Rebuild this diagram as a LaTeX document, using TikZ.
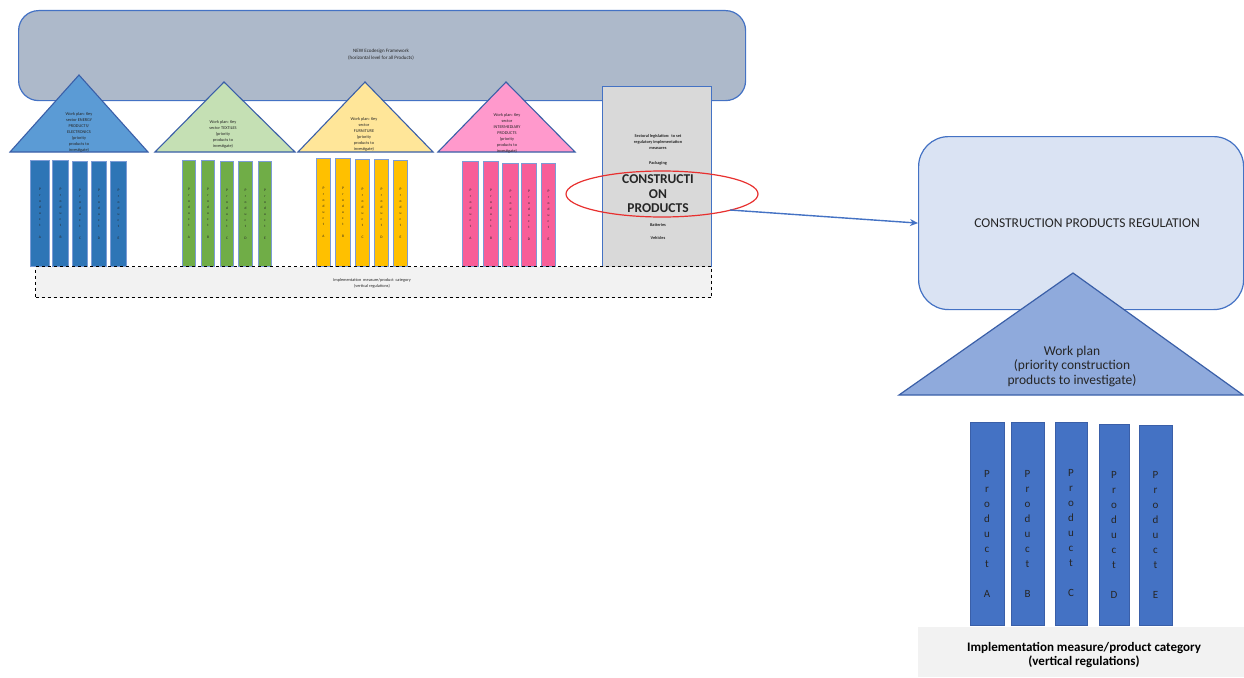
\documentclass[tikz,border=0pt]{standalone}
\usepackage{fontspec}
\setmainfont{Carlito}
\usetikzlibrary{arrows.meta}
\definecolor{topfill}{HTML}{ADB9CA}
\definecolor{edgeblue}{HTML}{4472C4}
\definecolor{darkedge}{HTML}{3A5FA8}
\definecolor{tblue}{HTML}{5B9BD5}
\definecolor{tgreen}{HTML}{C5E0B4}
\definecolor{tyellow}{HTML}{FFE699}
\definecolor{tpink}{HTML}{FF99CC}
\definecolor{cblue}{HTML}{2E75B6}
\definecolor{cgreen}{HTML}{70AD47}
\definecolor{cyellow}{HTML}{FFC000}
\definecolor{cpink}{HTML}{F85E98}
\definecolor{grayfill}{HTML}{D9D9D9}
\definecolor{lightgray}{HTML}{F2F2F2}
\definecolor{crpfill}{HTML}{DAE3F3}
\definecolor{wpfill}{HTML}{8FAADC}
\definecolor{textdark}{HTML}{262626}
\definecolor{ringred}{HTML}{E8302F}
\newcommand{\smallprod}[1]{P\\r\\o\\d\\u\\c\\t\\[6pt]#1}
\newcommand{\bigprod}[1]{P\\r\\o\\d\\u\\c\\t\\[15pt]#1}
\begin{document}
\begin{tikzpicture}[x=1pt,y=-1pt,
  tri/.style={draw=darkedge, line width=1.1pt, line join=miter},
  tinytext/.style={align=center, text=textdark, font=\fontsize{4.3}{6}\selectfont, inner sep=0pt},
  smallcol/.style={draw=edgeblue!70, line width=1pt, inner sep=0pt, anchor=north west,
     align=center, text=textdark, font=\fontsize{3.6}{6}\selectfont},
  bigcol/.style={draw=darkedge, line width=0.6pt, fill=edgeblue, inner sep=0pt, anchor=north west},
  bigcoltext/.style={align=center, text=textdark, font=\fontsize{11}{15}\selectfont, inner sep=0pt},
  conn/.style={draw=edgeblue, line width=1.4pt, -{Stealth[length=8pt,width=7pt]}}
]
\useasboundingbox (0,0) rectangle (1244,677);
\fill[white] (0,0) rectangle (1244,677);

% top framework box
\node[draw=edgeblue, line width=1.2pt, fill=topfill, rounded corners=20pt, minimum width=727pt, minimum height=90pt, anchor=north west] (frame) at (18,10) {};
\node[tinytext, font=\fontsize{5}{7}\selectfont] (frametxt) at (381,55) {NEW Ecodesign Framework\\(horizontal level for all Products)};

% triangles
\filldraw[tri, fill=tblue] (10,152) -- (79,75) -- (148,152) -- cycle;
\filldraw[tri, fill=tgreen] (155,152) -- (224,82) -- (295,152) -- cycle;
\filldraw[tri, fill=tyellow] (298,152) -- (365,82) -- (433,152) -- cycle;
\filldraw[tri, fill=tpink] (438,152) -- (506,82) -- (575,152) -- cycle;
\node[tinytext] (t1) at (79,132) {Work plan: Key\\sector ENERGY\\PRODUCTS/\\ELECTRONICS\\(priority\\products to\\investigate)};
\node[tinytext] (t2) at (223,134) {Work plan: Key\\sector TEXTILES\\(priority\\products to\\investigate)};
\node[tinytext] (t3) at (364,134) {Work plan: Key\\sector\\FURNITURE\\(priority\\products to\\investigate)};
\node[tinytext] (t4) at (507,133) {Work plan: Key\\sector\\INTERMEDIARY\\PRODUCTS\\(priority\\products to\\investigate)};

% gray sectoral column
\node[draw=edgeblue, line width=1.2pt, fill=grayfill, minimum width=109pt, minimum height=182pt, anchor=north west, inner sep=0pt] (sect) at (602,86) {};
\node[tinytext, font=\bfseries\fontsize{4.3}{5.6}\selectfont] (sect1) at (658,142) {Sectoral legislation:\ \ to set\\regulatory implementation\\measures};
\node[tinytext, font=\bfseries\fontsize{4.3}{5.6}\selectfont] (sect2) at (658,163) {Packaging};
\node[tinytext, font=\bfseries\fontsize{13.5}{14.5}\selectfont] (sect3) at (658,194) {CONSTRUCTI\\ON\\PRODUCTS};
\node[tinytext, font=\bfseries\fontsize{4.3}{5.6}\selectfont] (sect4) at (658,225) {Batteries};
\node[tinytext, font=\bfseries\fontsize{4.3}{5.6}\selectfont] (sect5) at (658,238) {Vehicles};

% small product columns
\foreach \n/\a/\b/\t/\l in {1/30/49/160/A,2/52/68/160/B,3/72/87/161/C,4/91/106/161/D,5/110/126/161/E}
  \node[smallcol, fill=cblue, minimum width={(\b-\a)*1pt}, minimum height={(266-\t)*1pt}] (bl\n) at (\a,\t) {\smallprod{\l}};
\foreach \n/\a/\b/\t/\l in {1/182/195/160/A,2/201/214/160/B,3/220/233/161/C,4/238/252/161/D,5/258/271/161/E}
  \node[smallcol, fill=cgreen, minimum width={(\b-\a)*1pt}, minimum height={(266-\t)*1pt}] (gr\n) at (\a,\t) {\smallprod{\l}};
\foreach \n/\a/\b/\t/\l in {1/316/330/158/A,2/335/350/158/B,3/355/369/159/C,4/374/388/159/D,5/393/407/160/E}
  \node[smallcol, fill=cyellow, minimum width={(\b-\a)*1pt}, minimum height={(266-\t)*1pt}] (ye\n) at (\a,\t) {\smallprod{\l}};
\foreach \n/\a/\b/\t/\l in {1/462/478/161/A,2/483/498/161/B,3/502/518/163/C,4/521/536/163/D,5/541/555/163/E}
  \node[smallcol, fill=cpink, minimum width={(\b-\a)*1pt}, minimum height={(266-\t)*1pt}] (pk\n) at (\a,\t) {\smallprod{\l}};

% dashed implementation box
\node[draw=black, dashed, line width=1pt, fill=lightgray, minimum width=676pt, minimum height=31pt, anchor=north west, inner sep=0pt] (impl) at (35,266) {};
\node[tinytext, font=\fontsize{4.3}{6}\selectfont] (impltxt) at (372,283) {Implementation\ \ measure/product\ \ category\\(vertical regulations)};

% red ring
\draw[ringred, line width=1.2pt] (662,194) ellipse [x radius=96, y radius=23];
\node[inner sep=0pt] (ring) at (662,194) {};

% right side
\node[draw=edgeblue, line width=1.2pt, fill=crpfill, rounded corners=30pt, minimum width=325pt, minimum height=173pt, anchor=north west] (crp) at (918,136) {};
\node[text=textdark, font=\fontsize{13.5}{15}\selectfont, inner sep=0pt] (crptxt) at (1087,223) {CONSTRUCTION PRODUCTS REGULATION};
\filldraw[tri, line width=1.2pt, fill=wpfill] (899,395) -- (1073,273) -- (1243,395) -- cycle;
\node[tinytext, text=textdark, font=\fontsize{13.5}{14.5}\selectfont] (wptxt) at (1072,366) {Work plan\\(priority construction\\products to investigate)};

\coordinate (as) at (730,210);
\draw[conn] (as) -- (crp.west);

\foreach \n/\a/\b/\t/\l in {1/970/1004/422/A,2/1011/1044/422/B,3/1055/1087/422/C,4/1099/1129/424/D,5/1139/1172/425/E}{
  \node[bigcol, minimum width={(\b-\a)*1pt}, minimum height={(625-\t)*1pt}] (pr\n) at (\a,\t) {};
  \node[bigcoltext] (pr\n txt) at ({(\a+\b)/2},{(\t+625)/2+10}) {\bigprod{\l}};
}

\node[fill=lightgray, minimum width=326pt, minimum height=50pt, anchor=north west, inner sep=0pt] (impl2) at (918,627) {};
\node[align=center, text=black, font=\bfseries\fontsize{13}{14.5}\selectfont, inner sep=0pt] (impl2txt) at (1084,655) {Implementation measure/product category\\(vertical regulations)};
\end{tikzpicture}
\end{document}
